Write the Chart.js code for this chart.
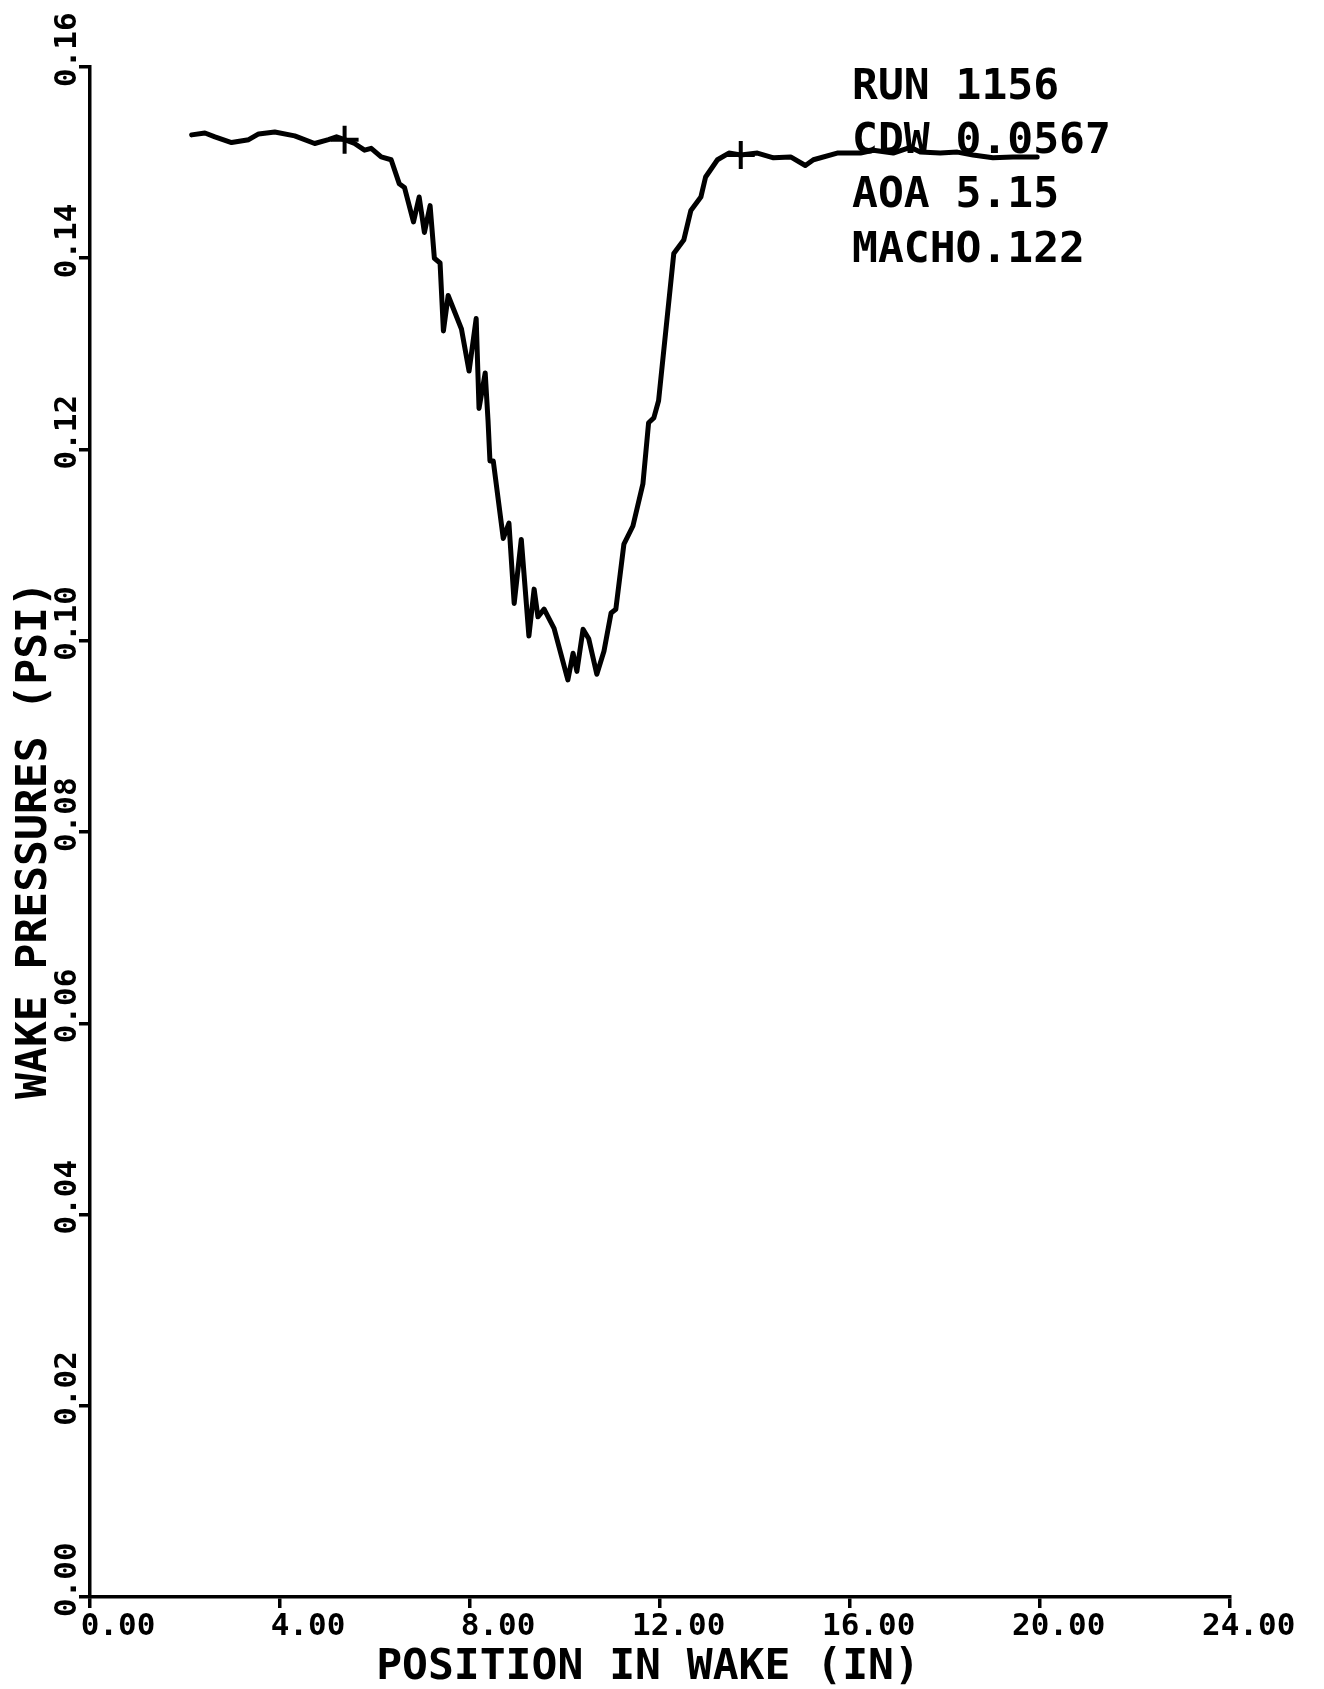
<!DOCTYPE html>
<html>
<head>
<meta charset="utf-8">
<script src="https://cdn.jsdelivr.net/npm/chart.js@4.4.0/dist/chart.umd.min.js"></script>
<style>
  body { margin: 0; background: #fff; }
  #wrap { width: 1324px; height: 1689px; }
</style>
</head>
<body>
<div id="wrap"><canvas id="wake" width="1324" height="1689"></canvas></div>
<script>
// wake survey, run 1156
const position = [2.14, 2.42, 2.63, 2.98, 3.34, 3.55, 3.89, 4.31, 4.73, 5.02, 5.19, 5.36, 5.57, 5.78, 5.92,
  6.13, 6.34, 6.51, 6.62, 6.81, 6.93, 7.04, 7.16, 7.25, 7.37, 7.44, 7.54, 7.82, 7.98, 8.13, 8.19, 8.32, 8.38,
  8.42, 8.49, 8.70, 8.82, 8.93, 9.08, 9.24, 9.35, 9.43, 9.56, 9.77, 10.06, 10.17, 10.25, 10.38, 10.50, 10.67,
  10.82, 10.97, 11.07, 11.24, 11.43, 11.64, 11.76, 11.87, 11.97, 12.29, 12.50, 12.65, 12.86, 12.96, 13.21,
  13.45, 13.70, 14.05, 14.39, 14.75, 15.06, 15.23, 15.73, 16.22, 16.49, 16.91, 17.27, 17.48, 17.90, 18.26,
  18.59, 19.01, 19.43, 19.94];
const pressure = [0.1529, 0.1531, 0.1527, 0.1521, 0.1524, 0.1530, 0.1532, 0.1528, 0.1520, 0.1524, 0.1527, 0.1524, 0.1520, 0.1513, 0.1515,
  0.1506, 0.1503, 0.1478, 0.1474, 0.1438, 0.1464, 0.1427, 0.1455, 0.1400, 0.1395, 0.1324, 0.1361, 0.1326, 0.1282, 0.1337, 0.1243, 0.1280, 0.1230,
  0.1188, 0.1188, 0.1107, 0.1123, 0.1039, 0.1106, 0.1005, 0.1054, 0.1025, 0.1033, 0.1013, 0.0959, 0.0987, 0.0968, 0.1012, 0.1002, 0.0965,
  0.0989, 0.1029, 0.1033, 0.1101, 0.1120, 0.1164, 0.1228, 0.1233, 0.1251, 0.1405, 0.1419, 0.1450, 0.1464, 0.1485, 0.1503,
  0.1510, 0.1508, 0.1510, 0.1505, 0.1506, 0.1497, 0.1503, 0.1510, 0.1510, 0.1513, 0.1510, 0.1516, 0.1511, 0.1510, 0.1511,
  0.1508, 0.1505, 0.1506, 0.1506];

// the two "+" marks on the trace (wake edges)
const edgeX = [5.36, 13.70];
const edgeY = [0.1524, 0.1508];

const xTicks = [0, 4, 8, 12, 16, 20, 24];
const yTicks = [0, 0.02, 0.04, 0.06, 0.08, 0.10, 0.12, 0.14, 0.16];
const notes = ['RUN 1156', 'CDW 0.0567', 'AOA 5.15', 'MACHO.122'];

const xTitle = 'POSITION IN WAKE (IN)';
const yTitle = 'WAKE PRESSURES (PSI)';
const FONT = '"DejaVu Sans Mono", monospace';

// labels, titles and run info drawn on top, using the scales for placement
const plotterText = {
  id: 'plotterText',
  afterDraw(chart) {
    const ctx = chart.ctx;
    const xs = chart.scales.x, ys = chart.scales.y;
    ctx.save();
    ctx.fillStyle = '#000';

    // x tick labels: units digit sits under the tick
    ctx.font = 'bold 31px ' + FONT;
    ctx.textBaseline = 'middle';
    ctx.textAlign = 'left';
    const cw = ctx.measureText('0').width;
    xTicks.forEach(v => {
      const s = v.toFixed(2);
      const intDigits = s.indexOf('.');
      const px = xs.getPixelForValue(v);
      ctx.fillText(s, px - (intDigits - 0.5) * cw, 1627);
    });

    // y tick labels, rotated
    yTicks.forEach(v => {
      const s = v.toFixed(2);
      const py = ys.getPixelForValue(v);
      ctx.save();
      ctx.translate(68, py + 20);
      ctx.rotate(-Math.PI / 2);
      ctx.textAlign = 'left';
      ctx.fillText(s, 0, 0);
      ctx.restore();
    });

    // axis titles
    ctx.font = 'bold 43px ' + FONT;
    ctx.textAlign = 'center';
    ctx.fillText(xTitle, 648, 1668);
    ctx.save();
    ctx.translate(35, 840);
    ctx.rotate(-Math.PI / 2);
    ctx.fillText(yTitle, 0, 0);
    ctx.restore();

    // run info block
    ctx.font = 'bold 43px ' + FONT;
    ctx.textAlign = 'left';
    ctx.textBaseline = 'alphabetic';
    const base = [99, 153, 207, 262];
    notes.forEach((t, i) => ctx.fillText(t, 852, base[i]));

    ctx.restore();
  }
};

const axisLine = { display: true, color: '#000', width: 3.5 };
const gridStyle = { drawOnChartArea: false, drawTicks: true, tickLength: 11, color: '#000', lineWidth: 3.5 };

new Chart(document.getElementById('wake').getContext('2d'), {
  type: 'line',
  data: {
    datasets: [{
      label: 'Wake pressure',
      data: position.map((x, i) => ({ x: x, y: pressure[i] })),
      borderColor: '#000',
      borderWidth: 5,
      borderJoinStyle: 'round',
      borderCapStyle: 'round',
      pointRadius: 0,
      tension: 0,
      fill: false
    }, {
      label: 'Edges',
      data: edgeX.map((x, i) => ({ x: x, y: edgeY[i] })),
      showLine: false,
      pointStyle: 'cross',
      pointRadius: 14,
      pointBorderWidth: 4,
      pointBorderColor: '#000',
      borderColor: '#000'
    }]
  },
  options: {
    responsive: false,
    animation: false,
    layout: { padding: { left: 90, top: 67, right: 94, bottom: 92 } },
    plugins: { legend: { display: false }, tooltip: { enabled: false } },
    scales: {
      x: {
        type: 'linear', min: 0, max: 24,
        ticks: { stepSize: 4, display: false },
        grid: gridStyle,
        border: axisLine,
        afterFit: s => { s.height = 0; }
      },
      y: {
        type: 'linear', min: 0, max: 0.16,
        ticks: { stepSize: 0.02, display: false },
        grid: gridStyle,
        border: axisLine,
        afterFit: s => { s.width = 0; }
      }
    }
  },
  plugins: [plotterText]
});
</script>
</body>
</html>
